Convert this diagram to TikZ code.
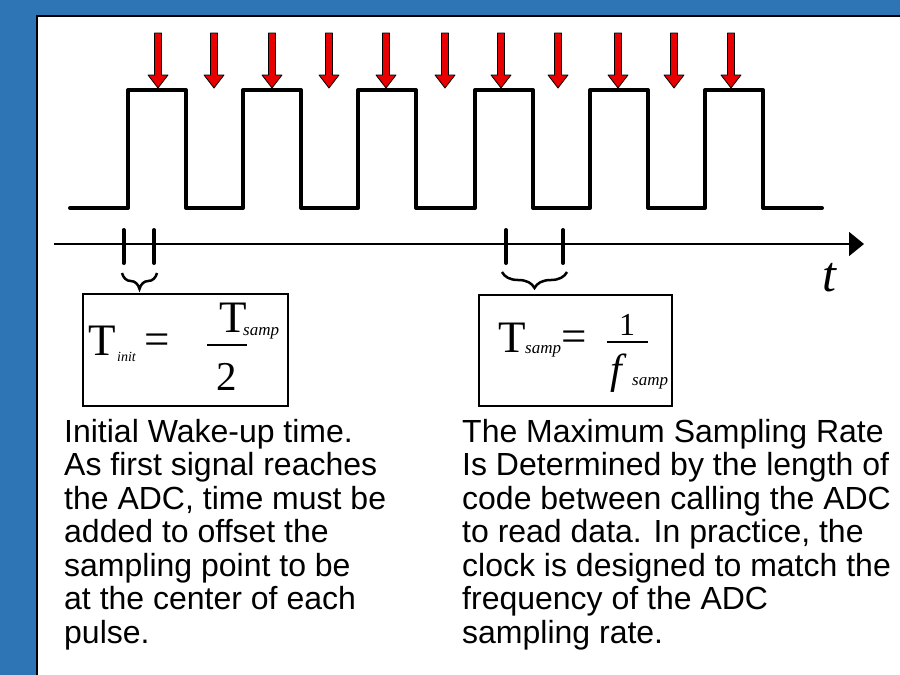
\documentclass[tikz,border=0pt]{standalone}
\usepackage{xcolor}
\usepackage{fontspec}
\setmainfont{Liberation Sans}
\newfontfamily\timesfont{Liberation Serif}
\usetikzlibrary{arrows.meta,decorations.pathreplacing}

\definecolor{slideblue}{RGB}{46,117,182}
\definecolor{samplered}{RGB}{232,0,0}

\tikzset{
    wave/.style={line width=4pt, line join=round, line cap=round},
    tickmark/.style={line width=4pt, line cap=round},
    samplebrace/.style={decorate, decoration={brace, mirror, amplitude=16pt}, line width=2.5pt},
    formulabox/.style={draw, line width=1.5pt, inner sep=0pt, anchor=north west},
    mathpart/.style={inner sep=0pt, anchor=base west},
    bodytext/.style={inner sep=0pt, anchor=north west, align=left, font=\fontsize{32}{33.5}\selectfont}
}

\newcommand{\bigrm}{\timesfont\fontsize{45}{45}\selectfont}
\newcommand{\smallit}{\timesfont\itshape\fontsize{17}{17}\selectfont}

\begin{document}
\begin{tikzpicture}[x=1pt,y=-1pt]
    \useasboundingbox (0,0) rectangle (900,675);
    \fill[slideblue] (0,0) rectangle (900,675);
    \draw[fill=white, line width=1.2pt] (37,16) rectangle (905,680);

    % sampling instants
    \foreach \x in {158,214,272,329,386,445,501,558,618,674,731} {
        \draw[fill=samplered, line width=0.8pt, line join=round]
            (\x-3.5,33) -- ++(7,0) -- ++(0,42) -- ++(6.5,0) -- (\x,88)
            -- ++(-10,-13) -- ++(6.5,0) -- cycle;
    }

    % clock signal
    \draw[wave] (70,208)
        foreach \r in {128,243,358,475,590,705} {
            -- (\r,208) -- (\r,90) -- (\r+58,90) -- (\r+58,208)
        } -- (822,208);

    % time axis
    \coordinate (tstart) at (54,244);
    \coordinate (tend) at (864,244);
    \draw[line width=1.5pt, -{Triangle[length=15pt,width=24pt]}] (tstart) -- (tend);
    \node[mathpart, font=\timesfont\itshape\fontsize{50}{50}\selectfont] (tlabel) at (822,291) {t};

    \draw[tickmark] (123.5,230) -- (123.5,263);
    \draw[tickmark] (154,230) -- (154,263);
    \draw[tickmark] (506,230) -- (506,263);
    \draw[tickmark] (563,230) -- (563,263);

    \coordinate (initL) at (122,273);
    \coordinate (initR) at (157,273);
    \coordinate (sampL) at (502,272);
    \coordinate (sampR) at (567,272);
    \draw[samplebrace] (initL) -- (initR);
    \draw[samplebrace] (sampL) -- (sampR);

    % formula boxes
    \node[formulabox, minimum width=205pt, minimum height=112pt] (initbox) at (82,293) {};
    \node[formulabox, minimum width=193pt, minimum height=111pt] (sampbox) at (478,294) {};

    \node[mathpart, font=\bigrm] (initT) at (88,355) {T};
    \node[mathpart, font=\timesfont\itshape\fontsize{14}{14}\selectfont] (initsub) at (117,361) {init};
    \node[mathpart, font=\bigrm] (initeq) at (144,354) {=};
    \node[mathpart, font=\bigrm] (initnum) at (219,332) {T};
    \node[mathpart, font=\smallit] (initsup) at (243,335) {samp};
    \draw[line width=1.5pt] (207,345) -- (247,345);
    \node[mathpart, font=\timesfont\fontsize{41}{41}\selectfont] (initden) at (216,390) {2};

    \node[mathpart, font=\bigrm] (sampT) at (498,352) {T};
    \node[mathpart, font=\smallit] (sampsub) at (525,353) {samp};
    \node[mathpart, font=\bigrm] (sampeq) at (561,351) {=};
    \node[inner sep=0pt, anchor=base, font=\timesfont\fontsize{32}{32}\selectfont] (sampnum) at (627,335) {1};
    \draw[line width=1.5pt] (607,342) -- (648,342);
    \node[mathpart, font=\timesfont\itshape\fontsize{42}{42}\selectfont] (sampf) at (610,383) {f};
    \node[mathpart, font=\smallit] (sampfsub) at (632,385) {samp};

    % explanations
    \node[bodytext] (inittext) at (64,419) {Initial Wake-up time.\\As first signal reaches\\the ADC, time must be\\added to offset the\\sampling point to be\\at the center of each\\pulse.};
    \node[bodytext] (samptext) at (462,419) {The Maximum Sampling Rate\\Is Determined by the length of\\code between calling the ADC\\to read data. In practice, the\\clock is designed to match the\\frequency of the ADC\\sampling rate.};
\end{tikzpicture}
\end{document}
